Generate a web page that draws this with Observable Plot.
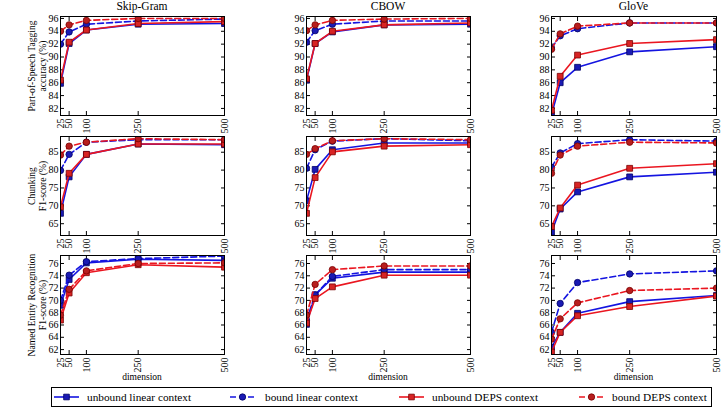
<!DOCTYPE html>
<html>
<head>
<meta charset="utf-8">
<script src="https://cdn.jsdelivr.net/npm/d3@7"></script>
<script src="https://cdn.jsdelivr.net/npm/@observablehq/plot@0.6"></script>
<style>
  body { margin: 0; background: #fff; font-family: "Liberation Serif", "DejaVu Serif", serif; }
  #chart { position: relative; width: 721px; height: 408px; font-family: "Liberation Serif", "DejaVu Serif", serif; color: #000; }
  #chart svg text { font-family: "Liberation Serif", "DejaVu Serif", serif; }
  .abs { position: absolute; white-space: nowrap; font-weight: normal; }
  .title { font-size: 11.5px; transform: translateX(-50%); }
  .xlab { font-size: 9.5px; transform: translateX(-50%); }
  .ylab { font-size: 9.6px; line-height: 10.5px; text-align: center; transform: translate(-50%, -50%) rotate(-90deg); }
</style>
</head>
<body>
<div id="chart"></div>
<script>
// Embedding dimensions on the x axis
const dims = [25, 50, 100, 250, 500];
const models = ["Skip-Gram", "CBOW", "GloVe"];
const taskLabels = [
  ["Part-of-Speech Tagging", "accuracy (%)"],
  ["Chunking", "F1-score (%)"],
  ["Named Entity Recognition", "F1-score (%)"]
];
const seriesNames = ["unbound linear context", "bound linear context", "unbound DEPS context", "bound DEPS context"];

// y-axis tick values per task
const posTicks = [82, 84, 86, 88, 90, 92, 94, 96];
const chunkTicks = [65, 70, 75, 80, 85];
const nerTicks = [62, 64, 66, 68, 70, 72, 74, 76];

// Scores, one row per series (in seriesNames order), one value per dimension
const sgPos = [
  [85.9, 92.1, 94.2, 95.1, 95.2],
  [92.0, 93.9, 95.1, 95.6, 95.9],
  [86.4, 92.3, 94.2, 95.2, 95.5],
  [94.0, 95.0, 95.7, 96.0, 96.0]
];
const cbPos = [
  [86.4, 92.1, 93.9, 95.0, 95.1],
  [92.3, 94.1, 95.1, 95.6, 95.6],
  [86.6, 92.1, 94.0, 95.0, 95.3],
  [94.1, 95.0, 95.7, 95.9, 96.0]
];
const glPos = [
  [81.0, 86.0, 88.4, 90.8, 91.6],
  [91.4, 93.3, 94.4, 95.3, 95.3],
  [81.7, 87.0, 90.3, 92.1, 92.7],
  [91.2, 93.6, 94.8, 95.3, 95.3]
];
const sgChunk = [
  [67.9, 78.1, 84.4, 87.3, 87.1],
  [79.9, 84.4, 87.8, 88.5, 88.5],
  [69.7, 79.1, 84.4, 87.3, 87.3],
  [84.2, 86.7, 87.8, 88.8, 88.5]
];
const cbChunk = [
  [71.4, 80.2, 85.7, 87.6, 87.6],
  [80.5, 85.7, 88.1, 88.8, 88.2],
  [67.9, 77.9, 85.1, 86.7, 87.1],
  [84.4, 86.0, 88.2, 88.8, 88.5]
];
const glChunk = [
  [62.6, 69.1, 73.9, 78.1, 79.4],
  [80.8, 84.8, 87.4, 88.5, 88.1],
  [64.2, 69.4, 75.8, 80.5, 81.8],
  [79.1, 84.2, 86.7, 87.8, 87.6]
];
const sgNer = [
  [69.2, 73.4, 76.1, 76.7, 76.5],
  [70.0, 74.1, 76.3, 76.8, 77.2],
  [66.8, 71.2, 74.5, 75.8, 75.4],
  [67.6, 71.8, 74.8, 76.0, 76.1]
];
const cbNer = [
  [66.1, 70.9, 73.6, 74.6, 74.6],
  [66.8, 70.9, 73.9, 75.0, 75.0],
  [66.3, 70.3, 72.2, 74.1, 74.1],
  [67.6, 72.6, 75.0, 75.6, 75.6]
];
const glNer = [
  [62.4, 64.8, 67.9, 69.8, 70.8],
  [64.8, 69.5, 72.9, 74.3, 74.8],
  [61.6, 64.8, 67.5, 69.0, 70.7],
  [63.7, 67.0, 69.6, 71.6, 72.0]
];

// Series styling
const BLUE = "#1414e0", BLUE_MK = "#1a1ab4", BLUE_EDGE = "#000066";
const RED = "#ea1620", RED_MK = "#d82424", RED_EDGE = "#7a0000";
const styles = [
  {stroke: BLUE, fill: BLUE_MK, edge: BLUE_EDGE, dash: null, symbol: "square"},
  {stroke: BLUE, fill: BLUE_MK, edge: BLUE_EDGE, dash: "6,3", symbol: "circle"},
  {stroke: RED, fill: RED_MK, edge: RED_EDGE, dash: null, symbol: "square"},
  {stroke: RED, fill: "#b81e1e", edge: RED_EDGE, dash: "6,3", symbol: "circle"}
];

const grid = [
  {ticks: posTicks, domain: [80.9, 96.3], panels: [sgPos, cbPos, glPos]},
  {ticks: chunkTicks, domain: [61.7, 89.4], panels: [sgChunk, cbChunk, glChunk]},
  {ticks: nerTicks, domain: [61.2, 77.3], panels: [sgNer, cbNer, glNer]}
];

// Frame placement of each column / row
const colLeft = [60, 306, 551];
const colWidth = [164, 164, 165];
const rowTop = [16, 136, 255];
const frameH = 99;
const ML = 30, MR = 6, MT = 4, MB = 26;
const FONT = "'Liberation Serif', 'DejaVu Serif', serif";

const chart = document.getElementById("chart");

function panel(values, domain, yTicks, fw) {
  const rows = [];
  values.forEach((vals, i) => vals.forEach((v, j) => rows.push({series: i, dim: dims[j], value: v})));
  const marks = [];
  styles.forEach((s, i) => {
    const data = rows.filter(d => d.series === i);
    marks.push(Plot.line(data, {x: "dim", y: "value", stroke: s.stroke, strokeWidth: 1.6, strokeDasharray: s.dash, clip: true}));
    marks.push(Plot.dot(data, {x: "dim", y: "value", symbol: s.symbol, r: s.symbol === "square" ? 3.3 : 3.2, fill: s.fill, stroke: s.edge, strokeWidth: 0.8, clip: true}));
  });
  return Plot.plot({
    width: fw + ML + MR,
    height: frameH + MT + MB,
    marginLeft: ML, marginRight: MR, marginTop: MT, marginBottom: MB,
    style: {fontFamily: FONT, fontSize: "10px", background: "transparent", overflow: "visible"},
    x: {domain: [25, 500], label: null},
    y: {domain, label: null},
    marks: [
      Plot.axisX({ticks: dims, tickSize: -4, tickPadding: 7, tickRotate: -90, label: null, fontSize: 10}),
      Plot.axisX({anchor: "top", ticks: dims, tickSize: -4, tickFormat: () => "", label: null}),
      Plot.axisY({ticks: yTicks, tickSize: -4, tickPadding: 6, label: null, fontSize: 10}),
      Plot.axisY({anchor: "right", ticks: yTicks, tickSize: -4, tickFormat: () => "", label: null}),
      ...marks,
      Plot.frame({stroke: "#000", strokeWidth: 1})
    ]
  });
}

function addDiv(cls, html, left, top) {
  const d = document.createElement("div");
  d.className = "abs " + cls;
  d.innerHTML = html;
  d.style.left = left + "px";
  d.style.top = top + "px";
  chart.appendChild(d);
  return d;
}

grid.forEach((row, r) => {
  row.panels.forEach((vals, c) => {
    const svg = panel(vals, row.domain, row.ticks, colWidth[c]);
    svg.style.position = "absolute";
    svg.style.left = (colLeft[c] - ML) + "px";
    svg.style.top = (rowTop[r] - MT) + "px";
    chart.appendChild(svg);
  });
  const [l1, l2] = taskLabels[r];
  addDiv("ylab", l1 + "<br>" + l2, 37, rowTop[r] + frameH / 2);
});

models.forEach((m, c) => {
  const cx = colLeft[c] + colWidth[c] / 2;
  addDiv("title", m, cx, 0);
  addDiv("xlab", "dimension", cx, 372);
});

// Legend along the bottom
const leg = d3.create("svg").attr("width", 721).attr("height", 22)
  .style("position", "absolute").style("left", "0px").style("top", "386px");
leg.append("rect").attr("x", 51.5).attr("y", 1.5).attr("width", 660).attr("height", 19)
  .attr("fill", "#fff").attr("stroke", "#000").attr("stroke-width", 1);
const legX = [54, 230, 399, 579];
const textX = [87, 265, 432, 612];
seriesNames.forEach((name, i) => {
  const s = styles[i];
  const g = leg.append("g");
  g.append("line").attr("x1", legX[i]).attr("x2", legX[i] + 25).attr("y1", 11).attr("y2", 11)
    .attr("stroke", s.stroke).attr("stroke-width", 1.6).attr("stroke-dasharray", s.dash);
  const sym = s.symbol === "square" ? d3.symbolSquare : d3.symbolCircle;
  g.append("path").attr("d", d3.symbol(sym, Math.PI * 3.2 * 3.2)())
    .attr("transform", `translate(${legX[i] + 12.5},11)`)
    .attr("fill", s.fill).attr("stroke", s.edge).attr("stroke-width", 0.8);
  g.append("text").attr("x", textX[i]).attr("y", 15).text(name)
    .style("font-family", FONT).attr("font-size", 11.3);
});
chart.appendChild(leg.node());
</script>
</body>
</html>
